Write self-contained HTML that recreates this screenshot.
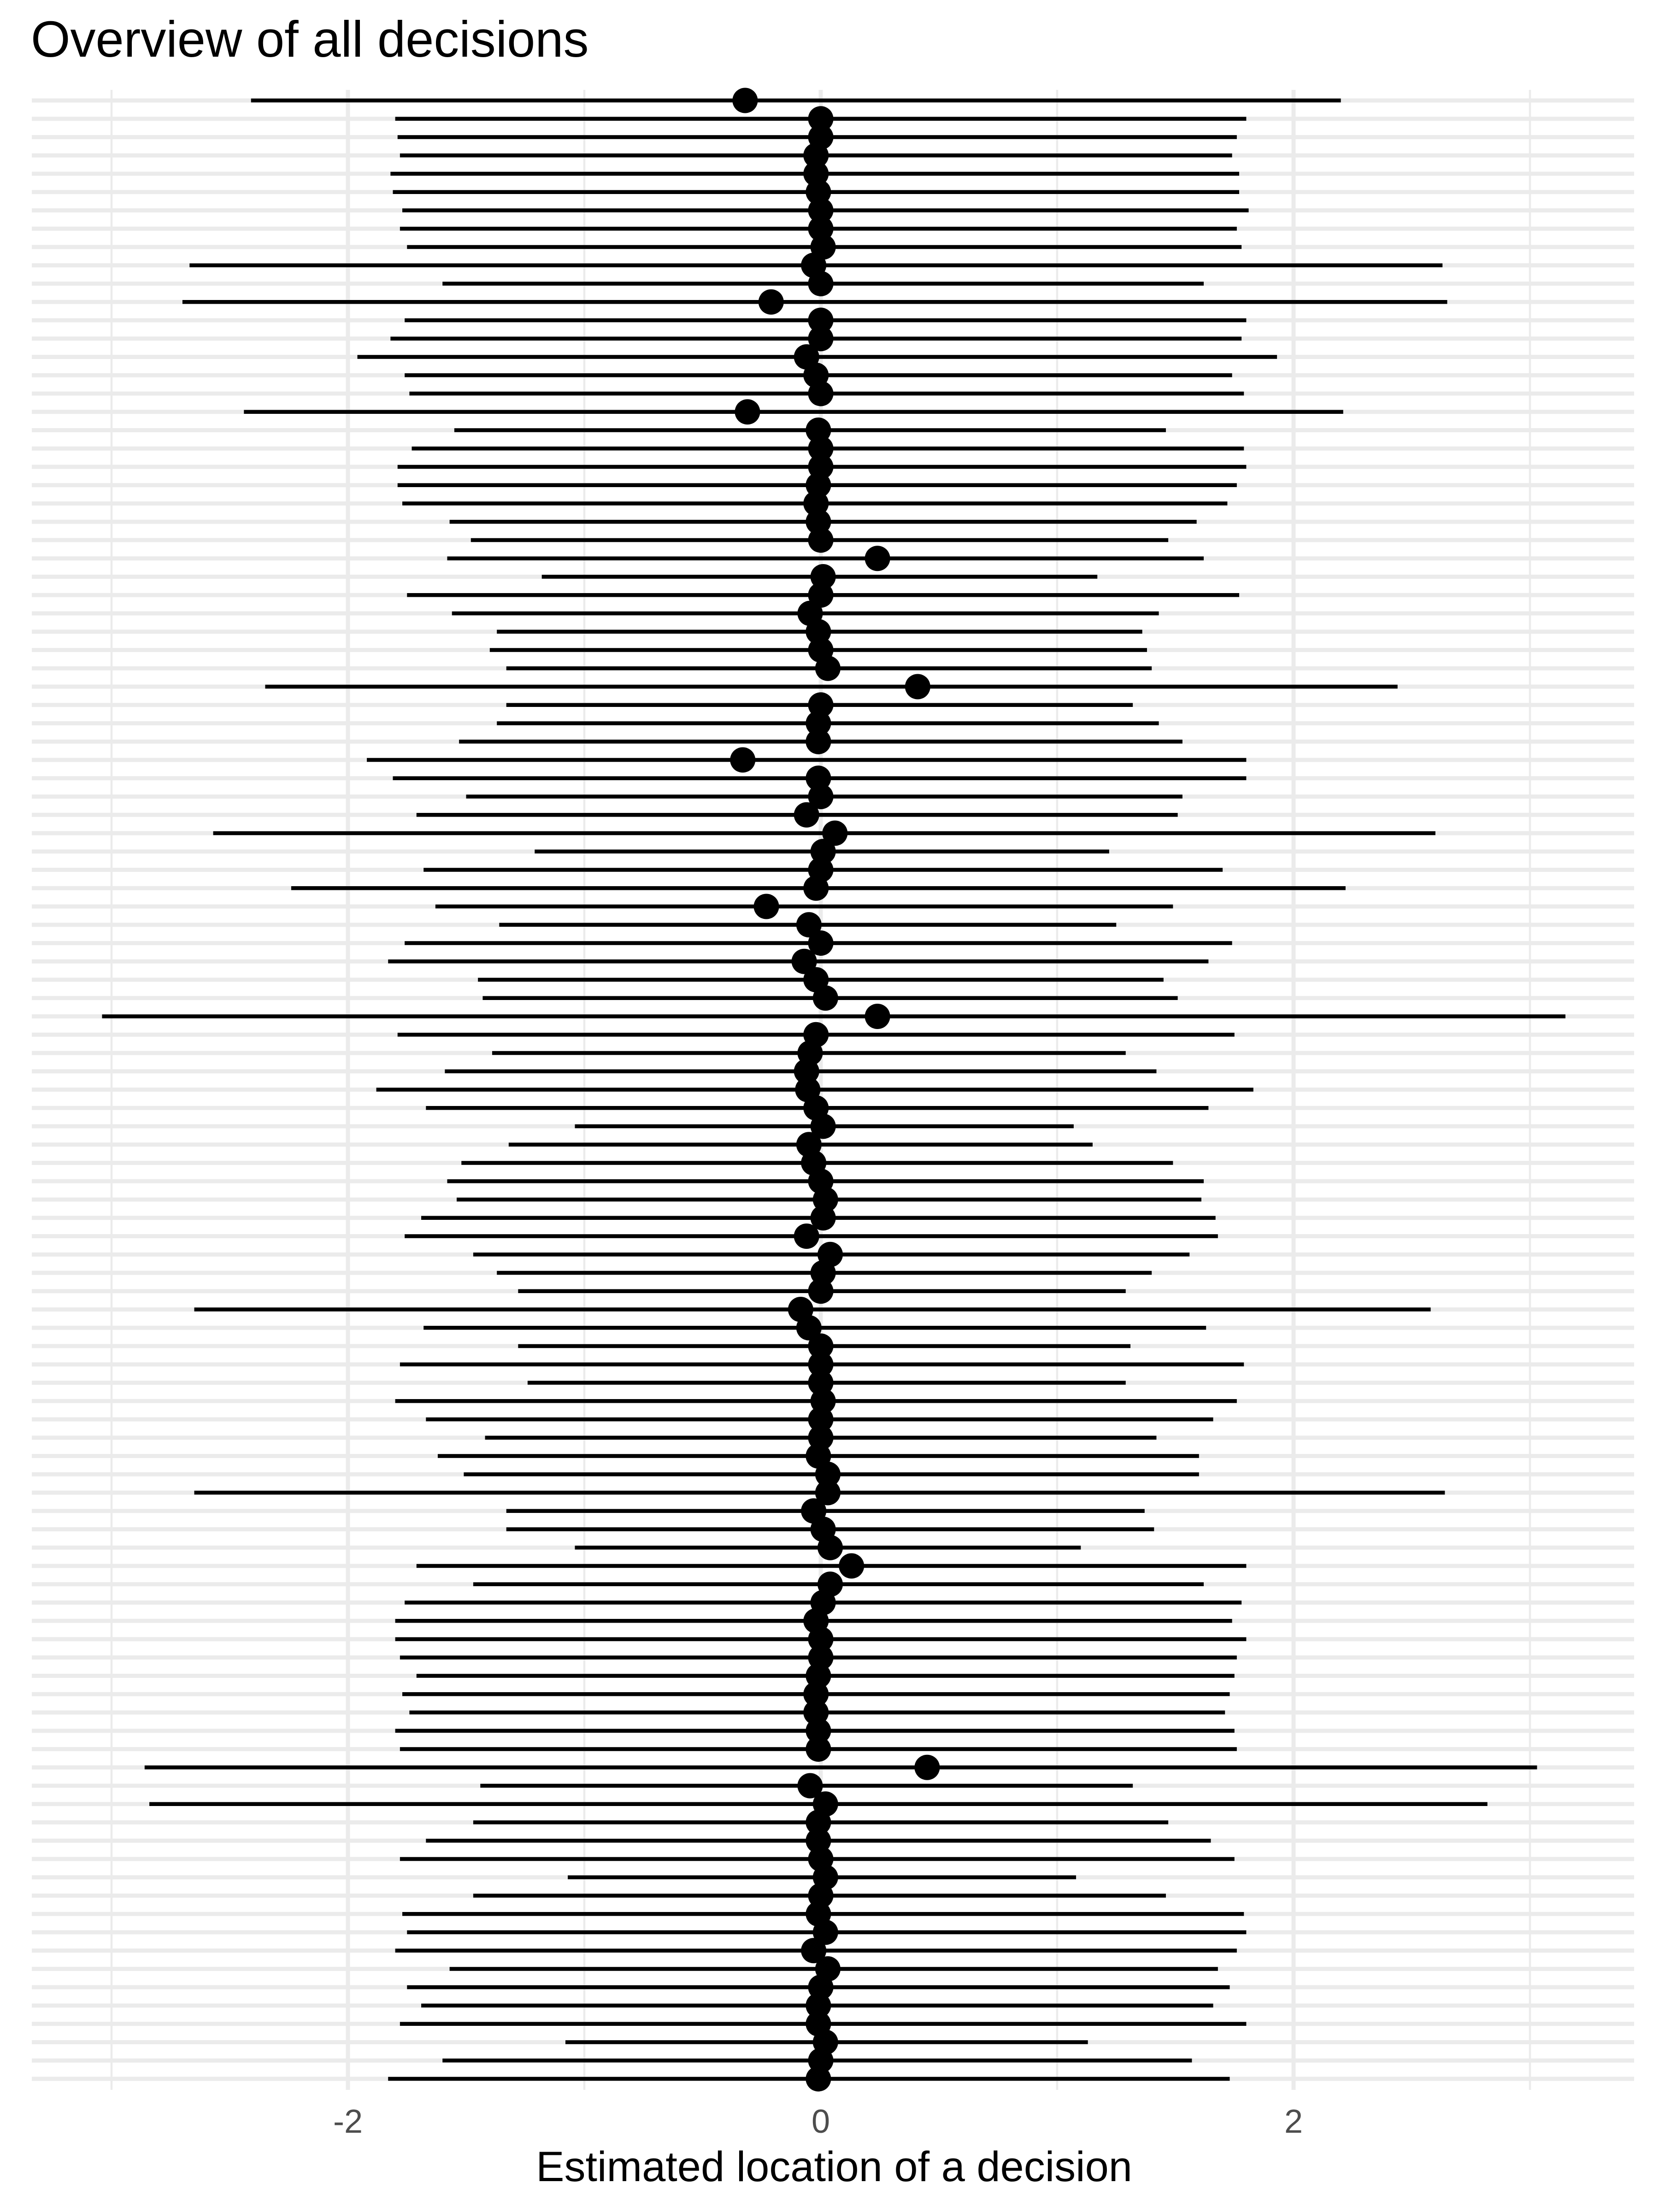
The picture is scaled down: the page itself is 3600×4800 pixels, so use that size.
<!DOCTYPE html>
<html><head><meta charset="utf-8"><style>
html,body{margin:0;padding:0;background:#fff;}
svg{display:block;}
</style></head><body>
<svg id="chart" xmlns="http://www.w3.org/2000/svg" width="3600" height="4800" viewBox="0 0 3600 4800">
<rect x="0" y="0" width="3600" height="4800" fill="#ffffff"/>
<g id="grid"></g>
<g id="marks"></g>
<g id="xticks"></g>
<text x="67" y="123" font-family="Liberation Sans, sans-serif" font-size="110" fill="#000">Overview of all decisions</text>
<text x="1810" y="4733" text-anchor="middle" font-family="Liberation Sans, sans-serif" font-size="92" fill="#000">Estimated location of a decision</text>
</svg>
<script>
const lows = [-2.41,-1.80,-1.79,-1.78,-1.82,-1.81,-1.77,-1.78,-1.75,-2.67,-1.60,-2.70,-1.76,-1.82,-1.96,-1.76,-1.74,-2.44,-1.55,-1.73,-1.79,-1.79,-1.77,-1.57,-1.48,-1.58,-1.18,-1.75,-1.56,-1.37,-1.40,-1.33,-2.35,-1.33,-1.37,-1.53,-1.92,-1.81,-1.50,-1.71,-2.57,-1.21,-1.68,-2.24,-1.63,-1.36,-1.76,-1.83,-1.45,-1.43,-3.04,-1.79,-1.39,-1.59,-1.88,-1.67,-1.04,-1.32,-1.52,-1.58,-1.54,-1.69,-1.76,-1.47,-1.37,-1.28,-2.65,-1.68,-1.28,-1.78,-1.24,-1.80,-1.67,-1.42,-1.62,-1.51,-2.65,-1.33,-1.33,-1.04,-1.71,-1.47,-1.76,-1.80,-1.80,-1.78,-1.71,-1.77,-1.74,-1.80,-1.78,-2.86,-1.44,-2.84,-1.47,-1.67,-1.78,-1.07,-1.47,-1.77,-1.75,-1.80,-1.57,-1.75,-1.69,-1.78,-1.08,-1.60,-1.83];
const highs = [2.20,1.80,1.76,1.74,1.77,1.77,1.81,1.76,1.78,2.63,1.62,2.65,1.80,1.78,1.93,1.74,1.79,2.21,1.46,1.79,1.80,1.76,1.72,1.59,1.47,1.62,1.17,1.77,1.43,1.36,1.38,1.40,2.44,1.32,1.43,1.53,1.80,1.80,1.53,1.51,2.60,1.22,1.70,2.22,1.49,1.25,1.74,1.64,1.45,1.51,3.15,1.75,1.29,1.42,1.83,1.64,1.07,1.15,1.49,1.62,1.61,1.67,1.68,1.56,1.40,1.29,2.58,1.63,1.31,1.79,1.29,1.76,1.66,1.42,1.60,1.60,2.64,1.37,1.41,1.10,1.80,1.62,1.78,1.74,1.80,1.76,1.75,1.73,1.71,1.75,1.76,3.03,1.32,2.82,1.47,1.65,1.75,1.08,1.46,1.79,1.80,1.76,1.68,1.73,1.66,1.80,1.13,1.57,1.73];
const estimates = [-0.32,0.00,0.00,-0.02,-0.02,-0.01,0.00,0.00,0.01,-0.03,0.00,-0.21,0.00,0.00,-0.06,-0.02,0.00,-0.31,-0.01,0.00,0.00,-0.01,-0.02,-0.01,0.00,0.24,0.01,0.00,-0.045,-0.01,0.00,0.03,0.41,0.00,-0.01,-0.01,-0.33,-0.01,0.00,-0.06,0.06,0.01,0.00,-0.02,-0.23,-0.05,0.00,-0.07,-0.02,0.02,0.24,-0.02,-0.045,-0.06,-0.055,-0.02,0.01,-0.05,-0.03,0.00,0.02,0.01,-0.06,0.04,0.01,0.00,-0.085,-0.05,0.00,0.00,0.00,0.01,0.00,0.00,-0.01,0.03,0.03,-0.03,0.01,0.04,0.13,0.04,0.01,-0.02,0.00,0.00,-0.01,-0.02,-0.02,-0.01,-0.01,0.45,-0.045,0.02,-0.01,-0.01,0.00,0.02,0.00,-0.01,0.02,-0.03,0.03,0.00,-0.01,-0.01,0.02,0.00,-0.01];
const majorTicks = [-2, 0, 2];
const tickLabels = ["-2", "0", "2"];
const minorTicks = [-3, -1, 1, 3];

const NS = "http://www.w3.org/2000/svg";
const X0 = 1781, UNIT = 513;
const PANEL_L = 69, PANEL_R = 3546, PANEL_T = 195, PANEL_B = 4535;
const ROW0 = 218, ROWSTEP = (4511 - 218) / (lows.length - 1);
function xScale(v){ return X0 + UNIT * v; }
function yScale(i){ return ROW0 + ROWSTEP * i; }
function mk(tag, attrs){ const e = document.createElementNS(NS, tag); for (const k in attrs) e.setAttribute(k, attrs[k]); return e; }

const grid = document.getElementById('grid');
minorTicks.forEach(function(t){
  const l = mk('line', {x1: xScale(t), x2: xScale(t), y1: PANEL_T, y2: PANEL_B, stroke: '#ebebeb', 'stroke-width': 4.5});
  
  
  grid.appendChild(l);
});
majorTicks.forEach(function(t){
  const l = mk('line', {x1: xScale(t), x2: xScale(t), y1: PANEL_T, y2: PANEL_B, stroke: '#ebebeb', 'stroke-width': 9});
  
  
  grid.appendChild(l);
});
lows.forEach(function(_, i){
  const l = mk('line', {x1: PANEL_L, x2: PANEL_R, y1: yScale(i), y2: yScale(i), stroke: '#ebebeb', 'stroke-width': 9});
  
  
  grid.appendChild(l);
});

const marks = document.getElementById('marks');
lows.forEach(function(lo, i){
  const l = mk('line', {x1: xScale(lo), x2: xScale(highs[i]), y1: yScale(i), y2: yScale(i), stroke: '#000', 'stroke-width': 8.5});
  
  
  marks.appendChild(l);
});
estimates.forEach(function(v, i){
  const c = mk('circle', {cx: xScale(v), cy: yScale(i), r: 27.5, fill: '#000'});
  
  
  marks.appendChild(c);
});

const xt = document.getElementById('xticks');
majorTicks.forEach(function(t, i){
  const tx = mk('text', {x: xScale(t), y: 4628, 'text-anchor': 'middle', 'font-family': 'Liberation Sans, sans-serif', 'font-size': 72, fill: '#4d4d4d'});
  tx.textContent = tickLabels[i];
  
  
  xt.appendChild(tx);
});
</script>
</body></html>
